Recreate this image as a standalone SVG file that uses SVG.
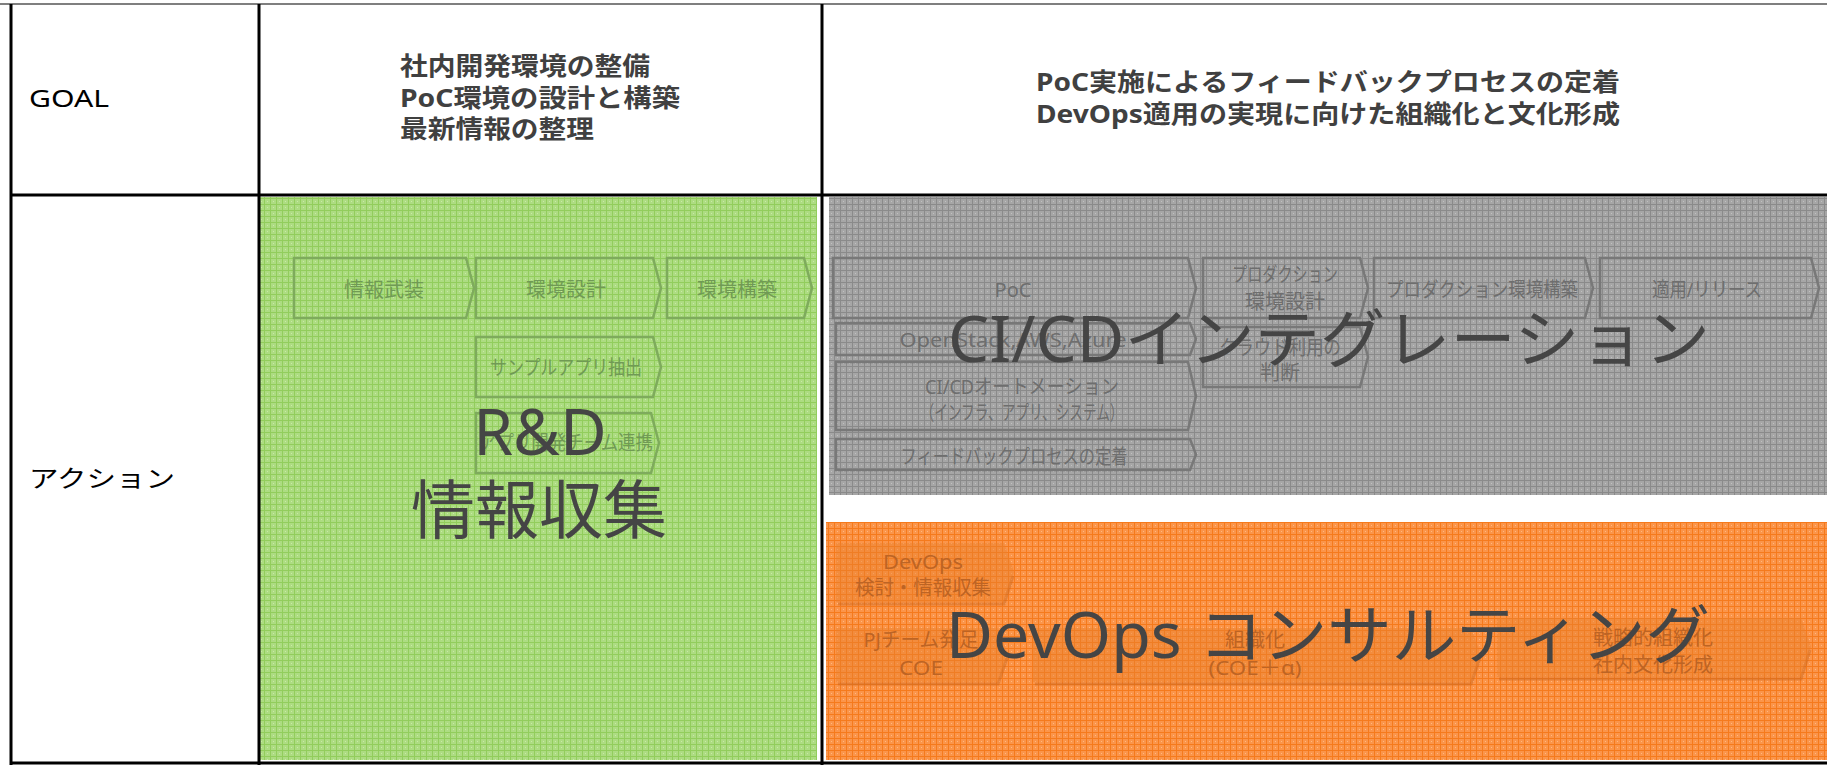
<svg xmlns="http://www.w3.org/2000/svg" width="1827" height="765" viewBox="0 0 1827 765">
<defs>
<pattern id="pGreen" width="6" height="6" patternUnits="userSpaceOnUse">
<rect width="6" height="6" fill="#addc82"/>
<rect width="6" height="1" fill="#92cd5c"/>
<rect width="1" height="6" fill="#92cd5c"/>
<rect x="3" y="3" width="1" height="1" fill="#c8eaa6"/>
</pattern>
<pattern id="pGray" width="6" height="6" patternUnits="userSpaceOnUse">
<rect width="6" height="6" fill="#a6a6a6"/>
<rect width="6" height="1" fill="#8a8a8a"/>
<rect width="1" height="6" fill="#8a8a8a"/>
<rect x="3" y="3" width="1" height="1" fill="#c0c0c0"/>
</pattern>
<pattern id="pOrange" width="6" height="6" patternUnits="userSpaceOnUse">
<rect width="6" height="6" fill="#fb954a"/>
<rect width="6" height="1" fill="#f57a1c"/>
<rect width="1" height="6" fill="#f57a1c"/>
<rect x="3" y="3" width="1" height="1" fill="#ffb880"/>
</pattern>
<style>
.grid{stroke:#000;stroke-width:3;fill:none}
.lbl{font-family:"Noto Sans","Noto Sans CJK JP",sans-serif;font-size:24px;fill:#000}
.hd{font-family:"Noto Sans","Noto Sans CJK JP",sans-serif;font-size:25px;font-weight:bold;fill:#404040}
.big{font-family:"Noto Sans","Noto Sans CJK JP",sans-serif;font-size:64px;fill:#454545;text-anchor:middle}
.gbox{fill:none;stroke:#7eab5c;stroke-width:2.5}
.gtx{font-family:"Noto Sans","Noto Sans CJK JP",sans-serif;font-size:20px;fill:#709a54;text-anchor:middle}
.kbox{fill:none;stroke:#787878;stroke-width:2.5}
.ktx{font-family:"Noto Sans","Noto Sans CJK JP",sans-serif;font-size:20px;fill:#6e6e6e;text-anchor:middle}
.obox{fill:#e8802f;fill-opacity:0.45}
.oshd{fill:none;stroke:#c9661f;stroke-opacity:0.45;stroke-width:3}
.otx{font-family:"Noto Sans","Noto Sans CJK JP",sans-serif;font-size:20px;fill:#bd6424;text-anchor:middle}
</style>
</defs>
<rect width="1827" height="765" fill="#fff"/>

<g id="regions">
<rect id="rd-region" x="260" y="197" width="557" height="563" fill="url(#pGreen)"/>
<rect id="cicd-region" x="829" y="197" width="998" height="298" fill="url(#pGray)"/>
<rect id="devops-region" x="826" y="522" width="1001" height="238" fill="url(#pOrange)"/>
</g>

<g id="table">
<line x1="0" y1="4" x2="1827" y2="4" stroke="#7f7f7f" stroke-width="2"/>
<line class="grid" x1="11" y1="4" x2="11" y2="765"/>
<line class="grid" x1="259" y1="4" x2="259" y2="765"/>
<line class="grid" x1="822" y1="4" x2="822" y2="765"/>
<line class="grid" x1="10" y1="195" x2="1827" y2="195"/>
<line class="grid" x1="10" y1="763" x2="1827" y2="763"/>
</g>

<g id="labels">
<text class="lbl" x="29" y="107" textLength="80" lengthAdjust="spacingAndGlyphs">GOAL</text>
<text class="lbl" x="29" y="487" textLength="146" lengthAdjust="spacingAndGlyphs">アクション</text>
</g>

<g id="goal-rd">
<text class="hd" x="400" y="75" textLength="250" lengthAdjust="spacingAndGlyphs">社内開発環境の整備</text>
<text class="hd" x="400" y="107" textLength="280" lengthAdjust="spacingAndGlyphs">PoC環境の設計と構築</text>
<text class="hd" x="400" y="138" textLength="194" lengthAdjust="spacingAndGlyphs">最新情報の整理</text>
</g>

<g id="goal-poc">
<text class="hd" x="1036" y="91" textLength="584" lengthAdjust="spacingAndGlyphs">PoC実施によるフィードバックプロセスの定着</text>
<text class="hd" x="1036" y="123" textLength="584" lengthAdjust="spacingAndGlyphs">DevOps適用の実現に向けた組織化と文化形成</text>
</g>

<g id="n-joho">
<path class="gbox" d="M294 258 H466 L474 288 L466 318 H294 Z"/>
<text class="gtx" x="384" y="297">情報武装</text>
</g>
<g id="n-kankyo-sekkei">
<path class="gbox" d="M476 258 H653 L661 288 L653 318 H476 Z"/>
<text class="gtx" x="566" y="297">環境設計</text>
</g>
<g id="n-kankyo-kochiku">
<path class="gbox" d="M667 258 H804 L812 288 L804 318 H667 Z"/>
<text class="gtx" x="737" y="297">環境構築</text>
</g>
<g id="n-sample">
<path class="gbox" d="M476 337 H653 L661 367 L653 397 H476 Z"/>
<text class="gtx" x="566" y="375" textLength="152" lengthAdjust="spacingAndGlyphs">サンプルアプリ抽出</text>
</g>
<g id="n-app-team">
<path class="gbox" d="M476 413 H651 L659 443 L651 473 H476 Z"/>
<text class="gtx" x="566" y="450" textLength="174" lengthAdjust="spacingAndGlyphs">アプリ開発チーム連携</text>
</g>

<g id="n-poc">
<path class="kbox" d="M833 258 H1188 L1196 288 L1188 318 H833 Z"/>
<text class="ktx" x="1013" y="297">PoC</text>
</g>
<g id="n-openstack">
<path class="kbox" d="M836 323 H1190 L1196 339 L1190 355 H836 Z"/>
<text class="ktx" x="1013" y="347" textLength="227" lengthAdjust="spacingAndGlyphs">OpenStack,AWS,Azure</text>
</g>
<g id="n-cicd-auto">
<path class="kbox" d="M836 362 H1188 L1196 396 L1188 430 H836 Z"/>
<text class="ktx" x="1022" y="394" textLength="194" lengthAdjust="spacingAndGlyphs">CI/CDオートメーション</text>
<text class="ktx" x="1022" y="420" textLength="203" lengthAdjust="spacingAndGlyphs">（インフラ、アプリ、システム）</text>
</g>
<g id="n-feedback">
<path class="kbox" d="M836 439 H1190 L1196 454.5 L1190 470 H836 Z"/>
<text class="ktx" x="1014" y="464" textLength="227" lengthAdjust="spacingAndGlyphs">フィードバックプロセスの定着</text>
</g>
<g id="n-prod-sekkei">
<path class="kbox" d="M1203 258 H1360 L1368 288 L1360 318 H1203 Z"/>
<text class="ktx" x="1285" y="282" textLength="106" lengthAdjust="spacingAndGlyphs">プロダクション</text>
<text class="ktx" x="1285" y="309">環境設計</text>
</g>
<g id="n-cloud">
<path class="kbox" d="M1203 327 H1360 L1368 357 L1360 387 H1203 Z"/>
<text class="ktx" x="1280" y="355" textLength="122" lengthAdjust="spacingAndGlyphs">クラウド利用の</text>
<text class="ktx" x="1280" y="380">判断</text>
</g>
<g id="n-prod-kochiku">
<path class="kbox" d="M1374 258 H1585 L1593 288 L1585 318 H1374 Z"/>
<text class="ktx" x="1482" y="297" textLength="192" lengthAdjust="spacingAndGlyphs">プロダクション環境構築</text>
</g>
<g id="n-release">
<path class="kbox" d="M1600 258 H1811 L1819 288 L1811 318 H1600 Z"/>
<text class="ktx" x="1707" y="297" textLength="110" lengthAdjust="spacingAndGlyphs">適用/リリース</text>
</g>

<g id="n-devops-kento">
<path class="oshd" d="M838 604 H1004 L1013 576"/>
<path class="obox" d="M836 543 H1004 L1014 572 L1004 602 H836 Z"/>
<text class="otx" x="923" y="569" textLength="80" lengthAdjust="spacingAndGlyphs">DevOps</text>
<text class="otx" x="923" y="595" textLength="136" lengthAdjust="spacingAndGlyphs">検討・情報収集</text>
</g>
<g id="n-pj-team">
<path class="oshd" d="M838 684 H998 L1007 658"/>
<path class="obox" d="M836 628 H998 L1008 655 L998 682 H836 Z"/>
<text class="otx" x="921" y="647" textLength="115" lengthAdjust="spacingAndGlyphs">PJチーム発足</text>
<text class="otx" x="921" y="675" textLength="44" lengthAdjust="spacingAndGlyphs">COE</text>
</g>
<g id="n-soshikika">
<path class="oshd" d="M1035 684 H1471 L1480 658"/>
<path class="obox" d="M1033 628 H1471 L1481 655 L1471 682 H1033 Z"/>
<text class="otx" x="1255" y="647">組織化</text>
<text class="otx" x="1255" y="675" textLength="93" lengthAdjust="spacingAndGlyphs">(COE＋α)</text>
</g>
<g id="n-senryaku">
<path class="oshd" d="M1499 679 H1801 L1810 650"/>
<path class="obox" d="M1497 618 H1801 L1811 647 L1801 677 H1497 Z"/>
<text class="otx" x="1653" y="645" font-size="21">戦略的組織化</text>
<text class="otx" x="1653" y="672" font-size="21">社内文化形成</text>
</g>

<g id="connectors"></g>

<g id="titles">
<text class="big" x="540" y="455">R&amp;D</text>
<text class="big" x="539" y="533">情報収集</text>
<text class="big" x="1329" y="362" textLength="762" lengthAdjust="spacingAndGlyphs">CI/CDインテグレーション</text>
<text class="big" x="1328" y="658" textLength="764" lengthAdjust="spacingAndGlyphs">DevOps コンサルティング</text>
</g>
</svg>
